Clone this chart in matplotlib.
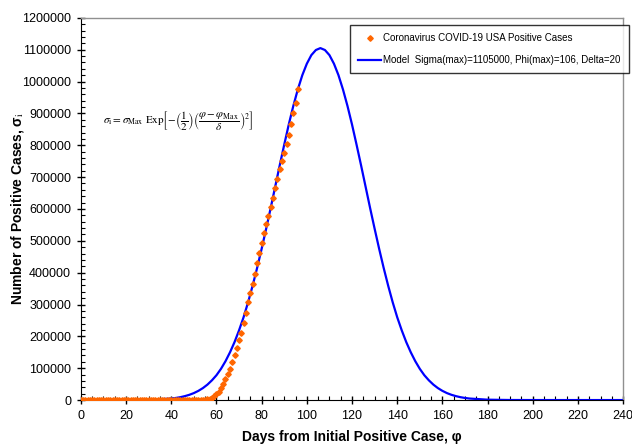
import matplotlib
matplotlib.use("Agg")
import matplotlib.pyplot as plt
from matplotlib.ticker import MultipleLocator, FormatStrFormatter

plt.rcParams['font.family'] = ['Liberation Sans', 'DejaVu Sans']
plt.rcParams['mathtext.fontset'] = 'stix'

obs_days = list(range(0, 97))
obs_cases = [0] * 41 + [
    100, 120, 150, 200, 260, 330, 420, 520, 650, 800,      # 41-50
    950, 1100, 1300, 1500, 1700, 2100, 3500, 6000, 11500, 18000,  # 51-60
    26000, 38000, 50000, 65000, 82000, 99000, 119000, 141000, 164000, 189000,  # 61-70
    211000, 243000, 272000, 307000, 335000, 364000, 395000, 429000, 461000, 494000,  # 71-80
    523000, 552000, 578000, 605000, 633000, 665000, 695000, 724000, 751000, 775000,  # 81-90
    803000, 832000, 866000, 900000, 934000, 976000,  # 91-96
]

# model curve
model_days = [0, 10, 20, 30,
              40, 42, 44, 46, 48, 50, 52, 54, 56, 58, 60, 62, 64, 66, 68, 70,
              72, 74, 76, 78, 80, 82, 84, 86, 88, 90, 92, 94, 96, 98, 100, 102,
              104, 106, 108, 110, 112, 114, 116, 118, 120, 122, 124, 126, 128,
              130, 132, 134, 136, 138, 140, 142, 144, 146, 148, 150, 152, 154,
              156, 158, 160, 162, 164, 166, 168, 170, 172,
              180, 190, 200, 210, 220, 230, 240]
model_half = [1105000, 1099000, 1083000, 1056000, 1020000, 975000, 923000,
              865000, 802000, 737000, 670000, 603000, 538000, 475000, 415000,
              359000, 307000, 260000, 219000, 182000, 150000, 122000, 98000,
              78000, 62000, 48500, 37600, 28900, 21900, 16500, 12300, 9000,
              6600, 4800]
model_cases = ([1, 10, 110, 810] + model_half[::-1][:-1] + model_half
               + [1200, 160, 20, 0, 0, 0, 0])

fig = plt.figure(figsize=(6.32, 4.46), dpi=100)
ax = fig.add_axes([0.128, 0.103, 0.858, 0.857])

ax.plot(model_days, model_cases, color='#0000ff', lw=1.6, zorder=2,
        label='Model  Sigma(max)=1105000, Phi(max)=106, Delta=20')
ax.plot(obs_days, obs_cases, ls='none', marker='D', ms=2.8, color='#ff6600',
        mec='#ff6600', zorder=3, label='Coronavirus COVID-19 USA Positive Cases')

ax.set_xlim(0, 240)
ax.set_ylim(0, 1200000)
ax.xaxis.set_major_locator(MultipleLocator(20))
ax.xaxis.set_minor_locator(MultipleLocator(5))
ax.yaxis.set_major_locator(MultipleLocator(100000))
ax.yaxis.set_minor_locator(MultipleLocator(20000))
ax.yaxis.set_major_formatter(FormatStrFormatter('%d'))
ax.tick_params(which='major', direction='inout', length=6, width=1, labelsize=9, pad=4)
ax.tick_params(which='minor', direction='in', length=3, width=0.8)

for s in ['top', 'right']:
    ax.spines[s].set_color('#909090')
    ax.spines[s].set_linewidth(1)
for s in ['left', 'bottom']:
    ax.spines[s].set_color('black')

ax.set_xlabel('Days from Initial Positive Case, φ', fontsize=10, fontweight='bold', labelpad=6)
ax.set_ylabel(r'Number of Positive Cases, σ$_{\rm i}$', fontsize=10, fontweight='bold')
ax.yaxis.set_label_coords(-0.102, 0.5)

ax.text(43, 878000,
        r'$\sigma_{\rm i} = \sigma_{\rm Max}\ {\rm Exp}\left[-\left(\dfrac{1}{2}\right)'
        r'\left(\dfrac{\varphi - \varphi_{\rm Max}}{\delta}\right)^{2}\right]$',
        ha='center', va='center', fontsize=8)

handles, labels = ax.get_legend_handles_labels()
leg = ax.legend(handles[::-1], labels[::-1], loc='upper right', bbox_to_anchor=(1.01, 0.98),
                fontsize=7, frameon=True, fancybox=False, edgecolor='black',
                borderpad=0.8, labelspacing=1.2, handlelength=2.4, handletextpad=0.2,
                borderaxespad=0)
leg.get_frame().set_linewidth(1)

fig.savefig('out.png', dpi=100)
